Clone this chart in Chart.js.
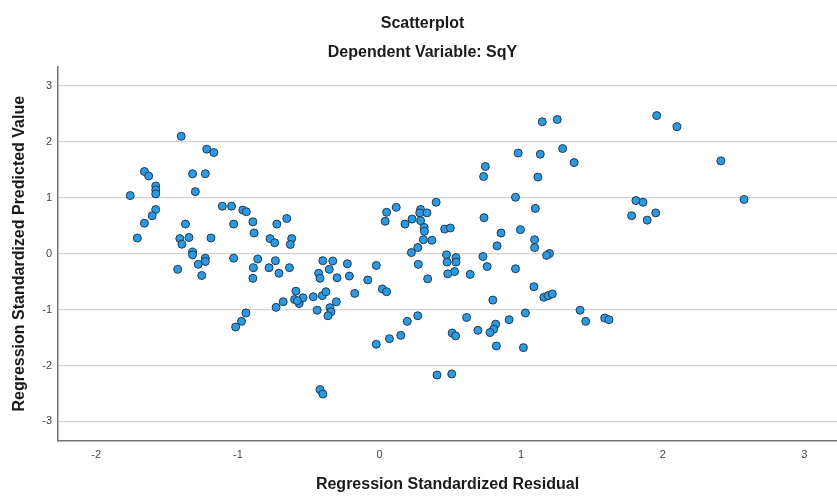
<!DOCTYPE html>
<html>
<head>
<meta charset="utf-8">
<script src="https://cdn.jsdelivr.net/npm/chart.js@4/dist/chart.umd.min.js"></script>
<style>
  body { margin: 0; background: #fff; }
  #wrap { width: 837px; height: 496px; }
</style>
</head>
<body>
<div id="wrap"><canvas id="scatterChart" width="837" height="496"></canvas></div>
<script>
// Regression Standardized Residual (x) / Regression Standardized Predicted Value (y)
var residual = [
  -1.40, -1.22, -1.17, -1.66, -1.63, -1.32, -1.23, -1.58, -1.58, -1.58,
  -1.76, -1.30, -1.11, -1.045, -0.965, -0.94, -1.58, -1.605, -1.66, -1.37,
  -1.03, -1.71, -1.41, -1.345, -1.19, -1.395, -1.32, -1.32, -1.23, -1.23,
  -1.28, -1.03, -1.425, -1.255, -0.894, -0.885, -0.725, -0.655, -0.773, -0.74,
  -0.62, -0.63, -0.86, -0.89, -0.894, -0.735, -0.78, -0.71, -0.636, -0.40,
  -0.33, -0.355, -0.43, -0.42, -0.30, -0.227, -0.213, -0.023, -0.083, 0.02,
  0.05, -0.175, -0.59, -0.60, -0.567, -0.54, -0.58, -0.468, -0.404, -0.378,
  -0.305, -0.68, -0.73, -0.35, -0.343, -0.364, -0.44, -0.943, -0.974, -1.016,
  0.05, 0.118, 0.04, 0.18, 0.23, 0.29, 0.284, 0.29, 0.315, 0.317,
  0.31, 0.27, 0.225, 0.274, 0.34, 0.27, 0.196, 0.15, 0.07, -0.023,
  -0.42, -0.40, 0.747, 0.735, 1.118, 0.96, 0.40, 0.335, 0.37, 0.46,
  0.50, 0.738, 0.858, 0.995, 0.83, 1.095, 1.095, 1.20, 1.18, 0.473,
  0.54, 0.477, 0.54, 0.73, 0.76, 0.96, 0.53, 0.482, 0.64, 1.09,
  1.16, 1.19, 1.22, 0.80, 1.03, 0.915, 0.82, 0.806, 0.78, 0.615,
  0.695, 0.513, 0.537, 0.825, 1.016, 1.149, 1.255, 1.957, 2.10, 0.979,
  1.135, 1.293, 1.374, 1.10, 1.81, 1.86, 1.78, 1.95, 1.89, 1.416,
  1.456, 1.59, 1.62, 0.406, 0.51, 2.41, 2.574
];
var predicted = [
  2.10, 1.87, 1.81, 1.47, 1.39, 1.43, 1.43, 1.21, 1.14, 1.07,
  1.04, 1.11, 0.85, 0.85, 0.78, 0.75, 0.79, 0.68, 0.545, 0.53,
  0.53, 0.28, 0.27, 0.29, 0.28, 0.17, 0.03, -0.02, -0.08, -0.14,
  -0.19, -0.08, -0.28, -0.39, 0.57, 0.37, 0.53, 0.63, 0.27, 0.195,
  0.27, 0.165, -0.095, -0.25, -0.44, -0.125, -0.25, -0.35, -0.25, -0.125,
  -0.13, -0.28, -0.35, -0.44, -0.43, -0.18, -0.40, -0.21, -0.47, -0.63,
  -0.68, -0.71, -0.67, -0.82, -0.89, -0.79, -0.84, -0.77, -0.75, -0.68,
  -0.86, -0.86, -0.96, -0.965, -1.04, -1.11, -1.01, -1.06, -1.21, -1.31,
  0.74, 0.83, 0.58, 0.53, 0.62, 0.79, 0.73, 0.59, 0.47, 0.40,
  0.25, 0.11, 0.02, -0.19, -0.45, -1.11, -1.21, -1.46, -1.52, -1.62,
  -2.43, -2.51, 1.56, 1.38, 1.37, 1.01, 0.92, 0.73, 0.24, 0.44,
  0.46, 0.645, 0.37, 0.43, 0.14, 0.25, 0.11, 0.005, -0.03, -0.02,
  -0.07, -0.15, -0.15, -0.05, -0.23, -0.27, -0.32, -0.36, -0.37, -0.59,
  -0.78, -0.75, -0.72, -0.83, -1.06, -1.18, -1.26, -1.35, -1.41, -1.14,
  -1.37, -1.42, -1.47, -1.65, -1.68, 2.36, 2.40, 2.47, 2.27, 1.80,
  1.78, 1.88, 1.63, 0.81, 0.95, 0.92, 0.68, 0.73, 0.60, -1.01,
  -1.21, -1.15, -1.18, -2.17, -2.15, 1.66, 0.97
];

var points = residual.map(function (x, i) {
  return { x: x, y: predicted[i] };
});

var font = "'Liberation Sans', Arial, sans-serif";

var ctx = document.getElementById("scatterChart").getContext("2d");
var chart = new Chart(ctx, {
  type: "scatter",
  data: {
    datasets: [
      {
        label: "SqY",
        data: points,
        pointRadius: 4,
        pointHoverRadius: 4,
        backgroundColor: "#2b9ae0",
        borderColor: "#1f3a56",
        borderWidth: 1
      }
    ]
  },
  options: {
    responsive: false,
    animation: false,
    layout: { autoPadding: false, padding: { left: 8, right: 0, top: 0, bottom: 0 } },
    plugins: {
      legend: { display: false },
      tooltip: { enabled: false },
      title: {
        display: true,
        text: "Scatterplot",
        color: "#1a1a1a",
        font: { family: font, size: 16, weight: "bold" },
        padding: { top: 14, bottom: 4 }
      },
      subtitle: {
        display: true,
        text: "Dependent Variable: SqY",
        color: "#1a1a1a",
        font: { family: font, size: 16, weight: "bold" },
        padding: { top: 6, bottom: 4 }
      }
    },
    scales: {
      x: {
        type: "linear",
        min: -2.27,
        max: 3.23,
        ticks: {
          stepSize: 1,
          includeBounds: false,
          color: "#444",
          padding: 7,
          font: { family: font, size: 11 }
        },
        grid: { drawOnChartArea: false, drawTicks: false },
        border: { display: true, color: "#737373", width: 1.5 },
        title: {
          display: true,
          text: "Regression Standardized Residual",
          color: "#1a1a1a",
          font: { family: font, size: 16, weight: "bold" },
          padding: { top: 0, bottom: 2 }
        },
        afterFit: function (scale) { scale.height = 55; }
      },
      y: {
        type: "linear",
        min: -3.35,
        max: 3.35,
        ticks: {
          stepSize: 1,
          includeBounds: false,
          color: "#444",
          padding: 6,
          font: { family: font, size: 11 }
        },
        grid: { color: "#d4d4d4", lineWidth: 1.2, drawTicks: false },
        border: { display: true, color: "#737373", width: 1.5 },
        title: {
          display: true,
          text: "Regression Standardized Predicted Value",
          color: "#1a1a1a",
          font: { family: font, size: 16, weight: "bold" },
          padding: { top: 2, bottom: 0 }
        },
        afterFit: function (scale) { scale.width = 50; }
      }
    }
  }
});
</script>
</body>
</html>
